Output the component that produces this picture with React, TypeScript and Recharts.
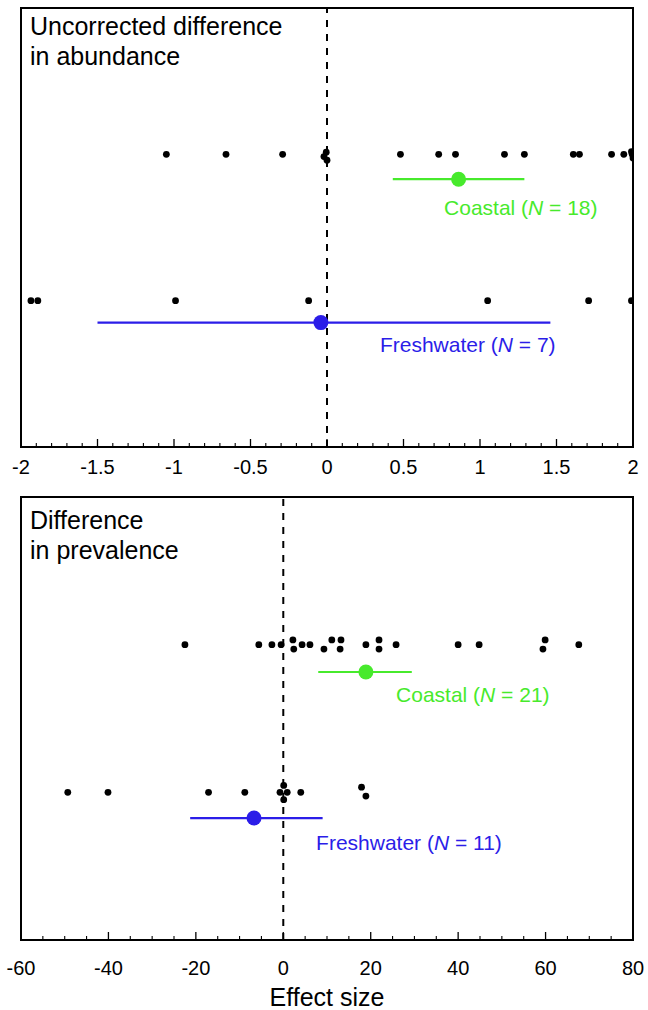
import React from 'react';
import { ScatterChart, Scatter, XAxis, YAxis, ReferenceLine, ReferenceArea } from 'recharts';

// ---------- data ----------
const topMajorTicks = [-2, -1.5, -1, -0.5, 0, 0.5, 1, 1.5, 2];
const topTickLabels = ['-2', '-1.5', '-1', '-0.5', '0', '0.5', '1', '1.5', '2'];
const bottomMajorTicks = [-60, -40, -20, 0, 20, 40, 60, 80];
const bottomTickLabels = ['-60', '-40', '-20', '0', '20', '40', '60', '80'];

const topCoastalX = [-1.05, -0.66, -0.29, -0.005, -0.02, 0.0, 0.48, 0.73, 0.84, 1.16, 1.29, 1.61, 1.65, 1.86, 1.94, 1.99, 2.0, 1.995];
const topCoastalY = [2, 2, 2, 2.015, 1.985, 1.96, 2, 2, 2, 2, 2, 2, 2, 2, 2, 2.018, 1.975, 2.0];
const topFreshX = [-1.935, -1.89, -0.99, -0.12, 1.05, 1.71, 1.99];
const topFreshY = [1, 1, 1, 1, 1, 1, 1];

const botCoastalX = [-22.5, -5.6, -2.6, -0.5, 2.2, 2.4, 4.3, 6.1, 9.3, 11.1, 13.2, 13.0, 18.9, 21.9, 21.9, 25.8, 40.0, 44.8, 59.9, 59.4, 67.6];
const botCoastalY = [2, 2, 2, 2, 2.032, 1.97, 2, 2, 1.97, 2.032, 2.032, 1.97, 2, 2.032, 1.97, 2, 2, 2, 2.032, 1.97, 2];
const botFreshX = [-49.3, -40.1, -17.1, -8.8, 0.1, -0.75, 0.9, 0.1, 4.0, 17.9, 18.9];
const botFreshY = [1, 1, 1, 1, 1.047, 1, 1, 0.95, 1, 1.035, 0.975];

const topMeans = [
  { name: 'Coastal', n: 18, x: 0.86, lo: 0.43, hi: 1.29, y: 1.83 },
  { name: 'Freshwater', n: 7, x: -0.04, lo: -1.5, hi: 1.46, y: 0.85 },
];
const botMeans = [
  { name: 'Coastal', n: 21, x: 18.9, lo: 8.0, hi: 29.4, y: 1.815 },
  { name: 'Freshwater', n: 11, x: -6.7, lo: -21.3, hi: 9.0, y: 0.826 },
];

// ---------- layout / style ----------
const FONT = '"Liberation Sans", Arial, Helvetica, sans-serif';
const GREEN = '#47ea2c';
const BLUE = '#2b1de8';
const COLORS = [GREEN, BLUE];

const zip = (xs: number[], ys: number[]) => xs.map((x, i) => ({ x, y: ys[i] }));

const SmallDot = (p: any) => <circle cx={p.cx} cy={p.cy} r={3.4} fill="#000" />;

function makeTick(majors: number[], labels: string[], labelDy: number) {
  return (p: any) => {
    const v = p.payload.value;
    const idx = majors.findIndex((m) => Math.abs(m - v) < 1e-6);
    if (idx >= 0) {
      return (
        <g>
          <line x1={p.x} x2={p.x} y1={p.y} y2={p.y - 8} stroke="#000" strokeWidth={1.3} />
          <text x={p.x} y={p.y + labelDy} textAnchor="middle" fontSize={20} fontFamily={FONT} fill="#000">
            {labels[idx]}
          </text>
        </g>
      );
    }
    return <line x1={p.x} x2={p.x} y1={p.y} y2={p.y - 4} stroke="#000" strokeWidth={1.1} />;
  };
}

function buildTicks(min: number, max: number, step: number) {
  const out: number[] = [];
  const n = Math.round((max - min) / step);
  for (let i = 0; i <= n; i++) out.push(Math.round((min + i * step) * 1000) / 1000);
  return out;
}

type PanelProps = {
  height: number;
  margin: any;
  axisHeight: number;
  domain: [number, number];
  minorStep: number;
  majors: number[];
  labels: string[];
  labelDy: number;
  coastal: { x: number; y: number }[];
  fresh: { x: number; y: number }[];
  means: typeof topMeans;
  labelAnchors: { x: number; y: number }[];
  axisLabel?: string;
};

function Panel(props: PanelProps) {
  const { domain, means } = props;
  const ticks = buildTicks(domain[0], domain[1], props.minorStep);
  return (
    <ScatterChart width={648} height={props.height} margin={props.margin}>
      <XAxis
        type="number"
        dataKey="x"
        domain={domain}
        ticks={ticks}
        interval={0}
        allowDataOverflow
        axisLine={false}
        tickLine={false}
        tickSize={0}
        tickMargin={0}
        height={props.axisHeight}
        tick={makeTick(props.majors, props.labels, props.labelDy)}
        label={
          props.axisLabel
            ? { value: props.axisLabel, position: 'insideBottom', offset: 4, fill: '#000', fontSize: 25, fontFamily: FONT }
            : undefined
        }
      />
      <YAxis type="number" dataKey="y" domain={[0, 3]} hide width={0} allowDataOverflow />
      <ReferenceArea x1={domain[0]} x2={domain[1]} y1={0} y2={3} fill="none" fillOpacity={0} stroke="#000" strokeWidth={2} />
      <ReferenceLine x={0} stroke="#000" strokeWidth={2} strokeDasharray="7 7" />
      {means.map((m, i) => (
        <ReferenceLine
          key={'ci' + i}
          segment={[{ x: m.lo, y: m.y }, { x: m.hi, y: m.y }]}
          stroke={COLORS[i]}
          strokeWidth={2.2}
        />
      ))}
      <Scatter data={props.coastal} shape={SmallDot} isAnimationActive={false} />
      <Scatter data={props.fresh} shape={SmallDot} isAnimationActive={false} />
      {means.map((m, i) => (
        <Scatter
          key={'mean' + i}
          data={[{ x: m.x, y: m.y }]}
          isAnimationActive={false}
          shape={(p: any) => <circle cx={p.cx} cy={p.cy} r={7.5} fill={COLORS[i]} />}
        />
      ))}
      {means.map((m, i) => (
        <Scatter
          key={'lab' + i}
          data={[props.labelAnchors[i]]}
          isAnimationActive={false}
          shape={(p: any) => (
            <text x={p.cx} y={p.cy} fontSize={21} fontFamily={FONT} fill={COLORS[i]}>
              <tspan>{m.name} (</tspan>
              <tspan fontStyle="italic">N</tspan>
              <tspan> = {m.n})</tspan>
            </text>
          )}
        />
      ))}
    </ScatterChart>
  );
}

const titleStyle: React.CSSProperties = {
  position: 'absolute',
  left: 30,
  fontFamily: FONT,
  fontSize: 25,
  lineHeight: '30px',
  color: '#000',
  whiteSpace: 'nowrap',
};

export default function App() {
  return (
    <div style={{ position: 'absolute', left: 0, top: 0, width: 648, height: 1010, background: '#fff' }}>
      <div style={{ position: 'absolute', left: 0, top: 0 }}>
        <Panel
          height={490}
          margin={{ top: 8, right: 15, bottom: 3, left: 21 }}
          axisHeight={40}
          domain={[-2, 2]}
          minorStep={0.1}
          majors={topMajorTicks}
          labels={topTickLabels}
          labelDy={27}
          coastal={zip(topCoastalX, topCoastalY)}
          fresh={zip(topFreshX, topFreshY)}
          means={topMeans}
          labelAnchors={[{ x: 0.765, y: 1.586 }, { x: 0.346, y: 0.649 }]}
        />
      </div>
      <div style={{ ...titleStyle, top: 11 }}>
        Uncorrected difference
        <br />
        in abundance
      </div>
      <div style={{ position: 'absolute', left: 0, top: 490 }}>
        <Panel
          height={520}
          margin={{ top: 7, right: 15, bottom: 0, left: 21 }}
          axisHeight={70}
          domain={[-60, 80]}
          minorStep={5}
          majors={bottomMajorTicks}
          labels={bottomTickLabels}
          labelDy={35}
          coastal={zip(botCoastalX, botCoastalY)}
          fresh={zip(botFreshX, botFreshY)}
          means={botMeans}
          labelAnchors={[{ x: 25.8, y: 1.611 }, { x: 7.5, y: 0.609 }]}
          axisLabel="Effect size"
        />
      </div>
      <div style={{ ...titleStyle, top: 505 }}>
        Difference
        <br />
        in prevalence
      </div>
    </div>
  );
}
